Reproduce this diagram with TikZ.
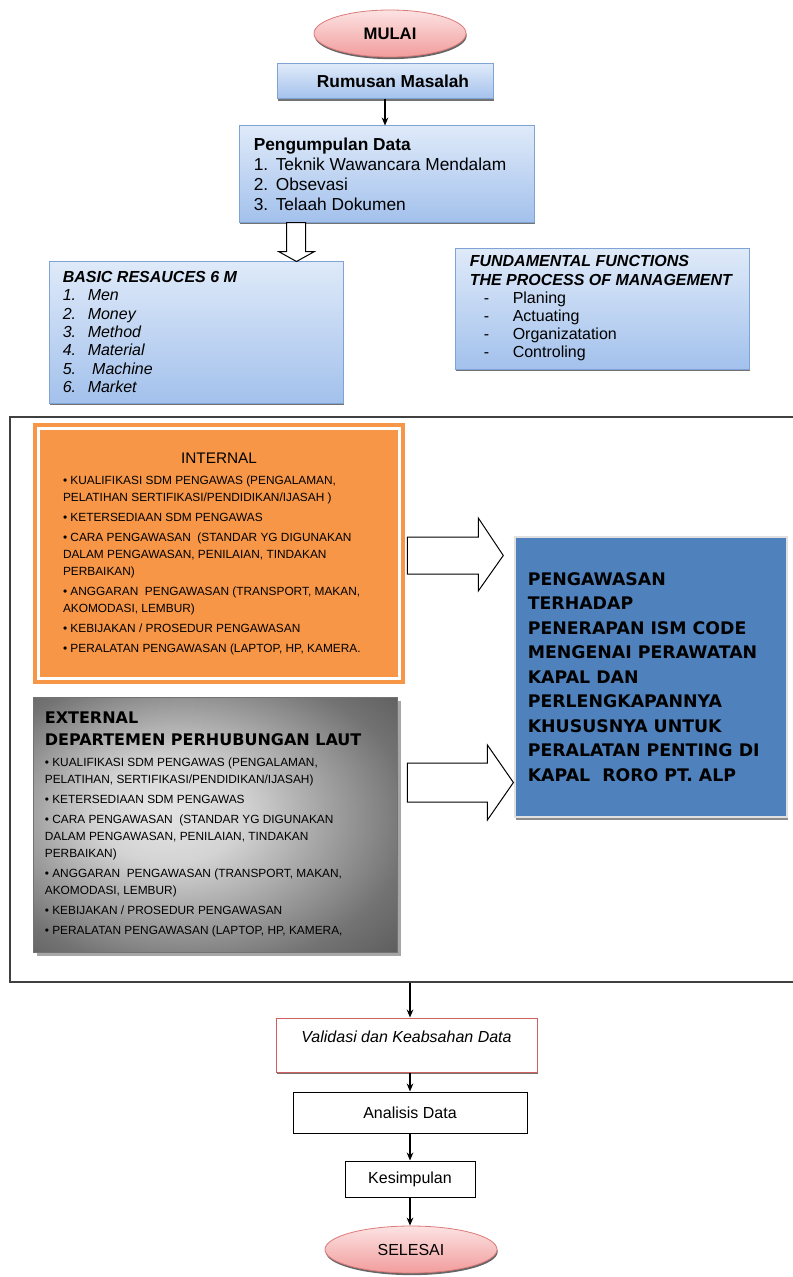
\documentclass[tikz,border=0pt]{standalone}
\usepackage{fontspec}
\setmainfont{Liberation Sans}
\newfontfamily\heavyfont{DejaVu Sans}
\usepackage{tikz}
\usetikzlibrary{arrows.meta,shapes.geometric,shadows,positioning}

\definecolor{boxtop}{HTML}{DFEAF9}
\definecolor{boxbot}{HTML}{A3C1EC}
\definecolor{boxline}{HTML}{7FA3D5}
\definecolor{pinktop}{HTML}{FCE3E3}
\definecolor{pinkbot}{HTML}{F29C9C}
\definecolor{pinkline}{HTML}{DC7A7A}
\definecolor{orangefill}{HTML}{F79646}
\definecolor{bluefill}{HTML}{4F81BD}
\definecolor{redline}{HTML}{D0605D}

% grey shading of the external box, light spot left of centre
\pgfdeclareradialshading{greyshade}{\pgfpoint{-8bp}{3bp}}{color(0bp)=(black!10); color(10bp)=(black!17); color(30bp)=(black!55); color(42bp)=(black!68); color(50bp)=(black!70)}

\newcommand{\pxu}{0.75pt}

\tikzset{
  startstop/.style={ellipse,draw=pinkline,line width=0.6pt,top color=pinktop,bottom color=pinkbot,inner sep=0pt,drop shadow={shadow xshift=0.5pt,shadow yshift=-1.6pt,fill=black!60,opacity=1}},
  bluebox/.style={rectangle,draw=boxline,line width=0.75pt,top color=boxtop,bottom color=boxbot,inner sep=0pt,drop shadow={shadow xshift=0.4pt,shadow yshift=-1.5pt,fill=black!55,opacity=1}},
  plainbox/.style={rectangle,draw=black,line width=0.75pt,fill=white,inner sep=0pt},
  boxtext/.style={anchor=west,align=left,inner sep=0pt},
  bullettext/.style={boxtext,font=\fontsize{8.9}{12.75}\selectfont},
  flowarrow/.style={-{Stealth[length=6pt,width=5pt]},line width=1.3pt},
  hollowarrow/.style={draw=black,fill=white,line width=0.75pt,line join=miter}
}

\begin{document}
\begin{tikzpicture}[x=0.75pt,y=-0.75pt]
  \useasboundingbox (0,0) rectangle (792,1277);

  % top of the flow
  \node[startstop,minimum width=152*\pxu,minimum height=47*\pxu] (mulai) at (390,33.5) {\fontsize{12.5}{14}\selectfont\bfseries MULAI};
  \node[bluebox,minimum width=216*\pxu,minimum height=35*\pxu] (rumusan) at (385,81.5) {\fontsize{13}{15}\selectfont\bfseries\hspace*{12pt}Rumusan Masalah};
  \node[bluebox,minimum width=295*\pxu,minimum height=96*\pxu] (kumpul) at (386.5,174) {};
  \node[boxtext,font=\fontsize{13}{15}\selectfont] (kumpultext) at ([xshift=11.25pt]kumpul.west) {%
    {\bfseries Pengumpulan Data}\\
    \makebox[16.5pt][l]{1.}Teknik Wawancara Mendalam\\
    \makebox[16.5pt][l]{2.}Obsevasi\\
    \makebox[16.5pt][l]{3.}Telaah Dokumen};
  \draw[flowarrow] (rumusan.south) -- (rumusan.south |- kumpul.north);

  % resources and functions
  \node[bluebox,minimum width=294*\pxu,minimum height=142*\pxu] (basic) at (196,332) {};
  \node[boxtext,font=\fontsize{12}{13.7}\selectfont\itshape] (basictext) at ([xshift=10.5pt]basic.west) {%
    {\bfseries BASIC RESAUCES 6 M}\\
    \makebox[18.75pt][l]{1.}Men\\
    \makebox[18.75pt][l]{2.}Money\\
    \makebox[18.75pt][l]{3.}Method\\
    \makebox[18.75pt][l]{4.}Material\\
    \makebox[18.75pt][l]{5.}\ Machine\\
    \makebox[18.75pt][l]{6.}Market};
  \node[bluebox,minimum width=294*\pxu,minimum height=121*\pxu] (fungsi) at (602,308.5) {};
  \node[boxtext,font=\fontsize{12}{13.65}\selectfont] (fungsitext) at ([xshift=11.25pt]fungsi.west) {%
    {\bfseries\itshape FUNDAMENTAL FUNCTIONS}\\
    {\bfseries\itshape THE PROCESS OF MANAGEMENT}\\
    \hspace*{10.5pt}\makebox[21.75pt][l]{-}Planing\\
    \hspace*{10.5pt}\makebox[21.75pt][l]{-}Actuating\\
    \hspace*{10.5pt}\makebox[21.75pt][l]{-}Organizatation\\
    \hspace*{10.5pt}\makebox[21.75pt][l]{-}Controling};
  \draw[hollowarrow] ([xshift=36pt]kumpul.south west) -- ++(0,29) -- ++(-8,0) -- ++(18,10) -- ++(18,-10) -- ++(-9,0) -- ++(0,-29) -- cycle;

  % big frame
  \node[draw=black!75,line width=1.1pt,minimum width=790*\pxu,minimum height=565*\pxu,inner sep=0pt] (frame) at (405,699.5) {};

  % internal
  \node[fill=orangefill,minimum width=372*\pxu,minimum height=261*\pxu,inner sep=0pt] (internal) at (219,553.5) {};
  \draw[white,line width=1.9pt] ([shift={(5.7,5.7)}]internal.north west) rectangle ([shift={(-5.7,-5.7)}]internal.south east);
  \node[bullettext] (internaltext) at ([xshift=22.5pt]internal.west) {%
    \makebox[234pt]{\fontsize{11.5}{14}\selectfont INTERNAL}\\[3pt]
    \textbullet\ KUALIFIKASI SDM PENGAWAS (PENGALAMAN,\\
    PELATIHAN SERTIFIKASI/PENDIDIKAN/IJASAH )\\[2.25pt]
    \textbullet\ KETERSEDIAAN SDM PENGAWAS\\[2.25pt]
    \textbullet\ CARA PENGAWASAN\ \ (STANDAR YG DIGUNAKAN\\
    DALAM PENGAWASAN, PENILAIAN, TINDAKAN\\
    PERBAIKAN)\\[2.25pt]
    \textbullet\ ANGGARAN\ \ PENGAWASAN (TRANSPORT, MAKAN,\\
    AKOMODASI, LEMBUR)\\[2.25pt]
    \textbullet\ KEBIJAKAN / PROSEDUR PENGAWASAN\\[2.25pt]
    \textbullet\ PERALATAN PENGAWASAN (LAPTOP, HP, KAMERA.};

  % external
  \node[draw=black!55,line width=0.6pt,shade,shading=greyshade,minimum width=364*\pxu,minimum height=255*\pxu,inner sep=0pt,drop shadow={shadow xshift=3pt,shadow yshift=-3pt,fill=black!35,opacity=1}] (external) at (215,824.5) {};
  \node[bullettext] (externaltext) at ([xshift=9pt]external.west) {%
    {\heavyfont\bfseries\fontsize{12}{12.75}\selectfont EXTERNAL}\\[3.75pt]
    {\heavyfont\bfseries\fontsize{12}{12.75}\selectfont DEPARTEMEN PERHUBUNGAN LAUT}\\[3pt]
    \textbullet\ KUALIFIKASI SDM PENGAWAS (PENGALAMAN,\\
    PELATIHAN, SERTIFIKASI/PENDIDIKAN/IJASAH)\\[2.25pt]
    \textbullet\ KETERSEDIAAN SDM PENGAWAS\\[2.25pt]
    \textbullet\ CARA PENGAWASAN\ \ (STANDAR YG DIGUNAKAN\\
    DALAM PENGAWASAN, PENILAIAN, TINDAKAN\\
    PERBAIKAN)\\[2.25pt]
    \textbullet\ ANGGARAN\ \ PENGAWASAN (TRANSPORT, MAKAN,\\
    AKOMODASI, LEMBUR)\\[2.25pt]
    \textbullet\ KEBIJAKAN / PROSEDUR PENGAWASAN\\[2.25pt]
    \textbullet\ PERALATAN PENGAWASAN (LAPTOP, HP, KAMERA,};

  % goal box
  \node[fill=bluefill,draw=black!12,line width=2.2pt,minimum width=272*\pxu,minimum height=280*\pxu,inner sep=0pt,drop shadow={shadow xshift=1pt,shadow yshift=-2pt,fill=black!45,opacity=1}] (tujuan) at (651,677) {};
  \node[boxtext,font=\heavyfont\bfseries\fontsize{13}{18.4}\selectfont] (tujuantext) at ([xshift=10.5pt]tujuan.west) {%
    PENGAWASAN\\
    TERHADAP\\
    PENERAPAN ISM CODE\\
    MENGENAI PERAWATAN\\
    KAPAL DAN\\
    PERLENGKAPANNYA\\
    KHUSUSNYA UNTUK\\
    PERALATAN PENTING DI\\
    KAPAL\ \ RORO PT. ALP};
  \draw[hollowarrow] (internal.east) ++(2,-16.5) -- ++(71,0) -- ++(0,-19) -- ++(25,37.5) -- ++(-25,35.5) -- ++(0,-17) -- ++(-71,0) -- cycle;
  \draw[hollowarrow] (external.east) ++(10,-61.5) -- ++(80,0) -- ++(0,-18) -- ++(26,37.5) -- ++(-26,37.5) -- ++(0,-18) -- ++(-80,0) -- cycle;

  % bottom of the flow
  \node[plainbox,draw=redline,minimum width=261*\pxu,minimum height=54*\pxu,align=center,font=\fontsize{12}{13}\selectfont\itshape,drop shadow={shadow xshift=0.4pt,shadow yshift=-1.5pt,fill=black!55,opacity=1}] (valid) at (406.5,1045) {Validasi dan Keabsahan Data\\ \mbox{}};
  \node[plainbox,minimum width=234*\pxu,minimum height=41*\pxu,font=\fontsize{12}{14}\selectfont] (analisis) at (410,1112.5) {Analisis Data};
  \node[plainbox,minimum width=130*\pxu,minimum height=36*\pxu,font=\fontsize{12}{14}\selectfont] (simpul) at (410,1179) {Kesimpulan};
  \node[startstop,minimum width=172*\pxu,minimum height=47*\pxu,font=\fontsize{12}{14}\selectfont] (selesai) at (411,1249.5) {SELESAI};

  \draw[flowarrow] (frame.south -| analisis.north) -- (analisis.north |- valid.north);
  \draw[flowarrow] (valid.south -| analisis.north) -- (analisis.north);
  \draw[flowarrow] (analisis.south) -- (simpul.north);
  \draw[flowarrow] (simpul.south) -- (simpul.south |- selesai.north);
\end{tikzpicture}
\end{document}
